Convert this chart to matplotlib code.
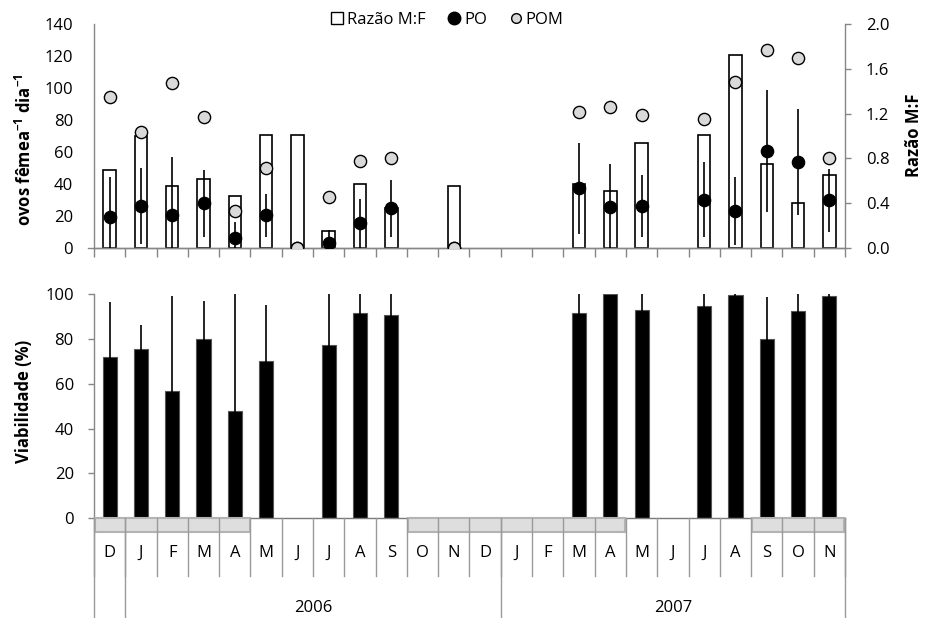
import numpy as np
import matplotlib
matplotlib.use("Agg")
import matplotlib.pyplot as plt
from matplotlib.patches import Rectangle
from matplotlib.lines import Line2D
from matplotlib.transforms import blended_transform_factory

plt.rcParams['font.family'] = ['Open Sans', 'DejaVu Sans']
plt.rcParams['mathtext.fontset'] = 'custom'
plt.rcParams['mathtext.rm'] = 'Open Sans'
plt.rcParams['mathtext.bf'] = 'Open Sans:bold'

nan = np.nan

# Monthly sampling, Dec 2005 .. Nov 2007
months = ['D', 'J', 'F', 'M', 'A', 'M', 'J', 'J', 'A', 'S', 'O', 'N',
          'D', 'J', 'F', 'M', 'A', 'M', 'J', 'J', 'A', 'S', 'O', 'N']
years = ['2006', '2007']
year_spans = [(1, 12), (13, 23)]          # month indices covered by each year
shaded_groups = [(0, 4), (10, 16), (21, 23)]

# Sex ratio (males:females), right axis
ratio = [0.70, 1.00, 0.55, 0.62, 0.46, 1.01, 1.01, 0.15, 0.57, 0.36, nan, 0.55,
         nan, nan, nan, 0.57, 0.51, 0.94, nan, 1.01, 1.72, 0.75, 0.40, 0.65]

# Eggs per female per day: mean (PO) with SD, and maximum (POM)
po = [19.6, 26.3, 20.4, 28.0, 6.2, 20.4, 0.0, 3.3, 15.4, 24.8, nan, 0.0,
      nan, nan, nan, 37.2, 25.4, 26.4, nan, 30.2, 23.1, 60.8, 53.7, 29.8]
po_sd = [25.0, 23.6, 36.6, 21.0, 9.8, 13.5, 0.0, 7.7, 15.2, 17.7, nan, 0.0,
         nan, nan, nan, 28.3, 27.1, 19.4, nan, 23.4, 21.3, 38.0, 33.2, 19.5]
pom = [94.6, 72.5, 103.0, 82.0, 23.0, 49.8, 0.0, 32.0, 54.6, 56.0, nan, 0.0,
       nan, nan, nan, 85.0, 88.0, 83.3, nan, 80.6, 103.5, 123.5, 118.5, 56.2]

# Egg viability (%) with SD
viab = [72.0, 75.7, 56.8, 80.0, 47.8, 70.3, nan, 77.3, 91.7, 90.5, nan, nan,
        nan, nan, nan, 91.7, 100.0, 93.0, nan, 94.6, 99.6, 80.0, 92.6, 98.9]
viab_sd = [24.5, 10.3, 42.4, 17.0, 55.0, 24.7, nan, 25.0, 12.0, 15.0, nan, nan,
           nan, nan, nan, 12.0, 0.0, 10.0, nan, 8.0, 3.0, 18.5, 10.0, 3.0]

x = np.arange(len(months))
W, H = 927, 618
AXC = '#868686'
FS = 12

fig = plt.figure(figsize=(W / 100, H / 100), dpi=100)
ax_top = fig.add_axes([94 / W, 1 - 248 / H, 751 / W, 224 / H])
ax_rat = ax_top.twinx()
ax_bot = fig.add_axes([94 / W, 1 - 518.3 / H, 751 / W, 224.3 / H])

# ---- top panel: sex ratio bars behind egg production points ----
ax_top.set_zorder(ax_rat.get_zorder() + 1)
ax_top.patch.set_visible(False)

ax_rat.bar(x, ratio, width=0.4, color='white', edgecolor='black', linewidth=1.2)
ax_rat.set_ylim(0, 2.0)
ax_rat.set_yticks(np.arange(0, 2.01, 0.4))
ax_rat.yaxis.set_major_formatter(matplotlib.ticker.FormatStrFormatter('%.1f'))
ax_rat.tick_params(axis='y', length=4.5, width=1, color=AXC, pad=10.5, labelsize=FS)

ax_top.errorbar(x, po, yerr=po_sd, fmt='none', ecolor='black', elinewidth=1.2,
                capsize=0, zorder=3)
ax_top.plot(x, po, 'o', color='black', markersize=8.8, zorder=4, linestyle='none')
ax_top.plot(x, pom, 'o', markerfacecolor='#d9d9d9', markeredgecolor='black',
            markeredgewidth=1.0, markersize=8.8, zorder=5, linestyle='none')
ax_top.set_ylim(0, 140)
ax_top.set_yticks(np.arange(0, 141, 20))
ax_top.set_xlim(-0.5, len(months) - 0.5)
ax_top.set_xticks(np.arange(-0.5, len(months), 1.0))
ax_top.set_xticklabels([])
ax_top.tick_params(axis='x', direction='out', length=6.5, width=1, color=AXC)
ax_top.tick_params(axis='y', length=0, pad=15, labelsize=FS)

for a in (ax_top, ax_rat):
    a.spines['top'].set_visible(False)
    for s in ('left', 'right', 'bottom'):
        a.spines[s].set_color(AXC)
        a.spines[s].set_linewidth(1.0)
ax_top.spines['right'].set_visible(False)
ax_rat.spines['left'].set_visible(False)
ax_top.add_line(Line2D([-0.008, 0], [0, 0], transform=ax_top.transAxes,
                       color=AXC, lw=1.0, clip_on=False))

# ---- bottom panel: viability ----
ax_bot.bar(x, viab, width=0.45, color='black', edgecolor='#555555', linewidth=0.8, zorder=2)
ax_bot.errorbar(x, viab, yerr=viab_sd, fmt='none', ecolor='black', elinewidth=1.2,
                capsize=0, zorder=3)
ax_bot.set_ylim(0, 100)
ax_bot.set_yticks(np.arange(0, 101, 20))
ax_bot.set_xlim(-0.5, len(months) - 0.5)
ax_bot.set_xticks([])
ax_bot.tick_params(axis='y', length=4.5, width=1, color=AXC, pad=10, labelsize=FS)
for s in ('top', 'right'):
    ax_bot.spines[s].set_visible(False)
ax_bot.spines['left'].set_color(AXC)
ax_bot.spines['bottom'].set_color('#7a7a7a')
ax_bot.spines['left'].set_linewidth(1.0)
ax_bot.spines['bottom'].set_linewidth(1.0)

# category table under the lower panel
tr = blended_transform_factory(ax_bot.transData, ax_bot.transAxes)
def fy(py):
    return (518.3 - py) / 224.3

for g0, g1 in shaded_groups:
    ax_bot.add_patch(Rectangle((g0 - 0.47, fy(531.5)), g1 - g0 + 0.94, fy(517.5) - fy(531.5),
                               transform=tr, facecolor='#dedede', edgecolor='#b3b3b3',
                               linewidth=1.5, clip_on=False, zorder=4))
for k in range(len(months) + 1):
    ax_bot.add_line(Line2D([k - 0.5, k - 0.5], [0, fy(576)], transform=tr,
                           color='#9a9a9a', lw=1.0, clip_on=False, zorder=5))
year_edges = sorted({-0.5, len(months) - 0.5} | {s - 0.5 for s, _ in year_spans})
for xe in year_edges:
    ax_bot.add_line(Line2D([xe, xe], [0, fy(618)], transform=tr,
                           color='#9a9a9a', lw=1.0, clip_on=False, zorder=5))
for i, m in enumerate(months):
    ax_bot.text(i, fy(553), m, transform=tr, ha='center', va='center', fontsize=FS)
for yr, (s, e) in zip(years, year_spans):
    ax_bot.text((s + e) / 2, fy(608), yr, transform=tr, ha='center', va='center', fontsize=FS)

# ---- axis titles ----
fig.text(25 / W, 1 - 150 / H, r'ovos fêmea$^{\mathbf{-1}}$ dia$^{\mathbf{-1}}$',
         rotation=90, ha='center', va='center', fontsize=FS, fontweight='bold')
fig.text(914 / W, 1 - 135 / H, 'Razão M:F', rotation=90, ha='center', va='center',
         fontsize=FS, fontweight='bold')
fig.text(24 / W, 1 - 401 / H, 'Viabilidade (%)', rotation=90, ha='center', va='center',
         fontsize=FS, fontweight='bold')

# ---- legend ----
handles = [
    Line2D([], [], marker='s', linestyle='none', markerfacecolor='white',
           markeredgecolor='black', markeredgewidth=1.0, markersize=9),
    Line2D([], [], marker='o', linestyle='none', color='black', markersize=9),
    Line2D([], [], marker='o', linestyle='none', markerfacecolor='#d9d9d9',
           markeredgecolor='black', markeredgewidth=1.0, markersize=7),
]
fig.legend(handles, ['Razão M:F', 'PO', 'POM'], loc='center', ncol=3, frameon=False,
           bbox_to_anchor=(447 / W, 1 - 20 / H), fontsize=FS, handlelength=0.8,
           handletextpad=0.2, columnspacing=1.3)

fig.savefig('out.png', dpi=100)
